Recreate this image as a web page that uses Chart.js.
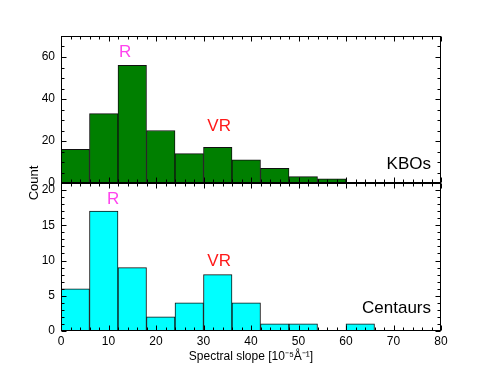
<!DOCTYPE html>
<html><head><meta charset="utf-8">
<script src="https://cdn.jsdelivr.net/npm/chart.js@4.4.1/dist/chart.umd.min.js"></script>
<style>
html,body{margin:0;padding:0;background:#fff;}
#wrap{position:relative;width:491px;height:368px;background:#fff;}
canvas{position:absolute;left:0;top:0;}
</style></head><body>
<div id="wrap"><canvas id="cTop" width="491" height="368"></canvas><canvas id="cBot" width="491" height="368"></canvas></div>
<script>
// ---- data ----
const binCenters = [3, 9, 15, 21, 27, 33, 39, 45, 51, 57, 63];
const kboCounts = [16, 33, 56, 25, 14, 17, 11, 7, 3, 2];
const centaurCounts = [6, 17, 9, 2, 4, 8, 4, 1, 1, 0, 1];
const xTicks = [0, 10, 20, 30, 40, 50, 60, 70, 80];
const kboYTicks = [0, 20, 40, 60];
const centaurYTicks = [0, 5, 10, 15, 20];
const xLabel = 'Spectral slope [10\u207B\u2075\u00C5\u207B\u00B9]';
const yLabel = 'Count';
const kboNotes = [
  {text: 'R', x: 13.5, y: 60, color: '#ff44ee', align: 'center'},
  {text: 'VR', x: 33.3, y: 25, color: '#ff1a1a', align: 'center'},
  {text: 'KBOs', x: 77.9, y: 6.9, color: '#000', align: 'right'}
];
const centaurNotes = [
  {text: 'R', x: 11.0, y: 18, color: '#ff44ee', align: 'center'},
  {text: 'VR', x: 33.3, y: 9.2, color: '#ff1a1a', align: 'center'},
  {text: 'Centaurs', x: 77.9, y: 2.6, color: '#000', align: 'right'}
];

const FONT = "'Liberation Sans', Arial, sans-serif";

function ticksPlugin(yMinorStep, notes, drawYLabel) {
  return {
    id: 'frameTicks',
    afterDraw(chart) {
      const ctx = chart.ctx, a = chart.chartArea, xs = chart.scales.x, ys = chart.scales.y;
      ctx.save();
      ctx.strokeStyle = '#000';
      ctx.lineWidth = 1;
      const L = Math.round(a.left) + 0.5, R = Math.round(a.right) - 0.5;
      const T = Math.round(a.top) + 0.5, B = Math.round(a.bottom) - 0.5;
      ctx.beginPath();
      for (let v = xs.min; v <= xs.max + 1e-9; v += 2) {
        const p = Math.round(xs.getPixelForValue(v)) + 0.5;
        const len = (Math.abs(v % 10) < 1e-9) ? 5 : 3;
        ctx.moveTo(p, B); ctx.lineTo(p, B - len);
        ctx.moveTo(p, T); ctx.lineTo(p, T + len);
      }
      for (let v = ys.min; v <= ys.max + 1e-9; v += yMinorStep) {
        const p = Math.round(ys.getPixelForValue(v)) + 0.5;
        const isMajor = ys.ticks.some(t => Math.abs(t.value - v) < 1e-9);
        const len = isMajor ? 5 : 3;
        ctx.moveTo(L, p); ctx.lineTo(L + len, p);
        ctx.moveTo(R, p); ctx.lineTo(R - len, p);
      }
      ctx.stroke();
      ctx.strokeRect(L, T, R - L, B - T);
      ctx.font = '17px ' + FONT;
      ctx.textBaseline = 'alphabetic';
      notes.forEach(n => {
        ctx.fillStyle = n.color;
        ctx.textAlign = n.align;
        ctx.fillText(n.text, xs.getPixelForValue(n.x), ys.getPixelForValue(n.y));
      });
      if (drawYLabel) {
        ctx.save();
        ctx.translate(a.left - 27, a.bottom);
        ctx.rotate(-Math.PI / 2);
        ctx.font = '13px ' + FONT;
        ctx.fillStyle = '#000';
        ctx.textAlign = 'center';
        ctx.textBaseline = 'middle';
        ctx.fillText(yLabel, 0, 0);
        ctx.restore();
      }
      ctx.restore();
    }
  };
}

function makeChart(id, counts, color, yMax, yTicks, yMinor, notes, isTop) {
  const data = counts.map((c, i) => ({x: binCenters[i], y: c}));
  return new Chart(document.getElementById(id), {
    type: 'bar',
    data: {datasets: [{
      data: data,
      backgroundColor: color,
      borderColor: '#111',
      borderWidth: 1,
      borderSkipped: 'start',
      barPercentage: 1,
      categoryPercentage: 1
    }]},
    options: {
      responsive: false,
      animation: false,
      events: [],
      layout: {padding: isTop ? {top: 36, right: 50, left: 0, bottom: 0} : {top: 183, right: 50, left: 0, bottom: 0}},
      plugins: {legend: {display: false}, tooltip: {enabled: false}},
      scales: {
        x: {
          type: 'linear', min: 0, max: 80, offset: false,
          grid: {display: false, drawTicks: false, offset: false},
          border: {display: false},
          afterBuildTicks: s => { s.ticks = xTicks.map(v => ({value: v})); },
          ticks: {display: !isTop, padding: 3, color: '#000', font: {family: FONT, size: 12}},
          title: {display: !isTop, text: xLabel, color: '#000', font: {family: FONT, size: 12}, padding: {top: 4, bottom: 4}},
          afterFit: s => { s.height = isTop ? 185 : 37; }
        },
        y: {
          type: 'linear', min: 0, max: yMax,
          grid: {display: false, drawTicks: false},
          border: {display: false},
          afterBuildTicks: s => { s.ticks = yTicks.map(v => ({value: v})); },
          ticks: {padding: 6, color: '#000', font: {family: FONT, size: 12}},
          afterFit: s => { s.width = 61; }
        }
      }
    },
    plugins: [ticksPlugin(yMinor, notes, isTop)]
  });
}

makeChart('cTop', kboCounts, '#007f00', 70, kboYTicks, 5, kboNotes, true);
makeChart('cBot', centaurCounts, '#00ffff', 21, centaurYTicks, 1, centaurNotes, false);
</script>
</body></html>
